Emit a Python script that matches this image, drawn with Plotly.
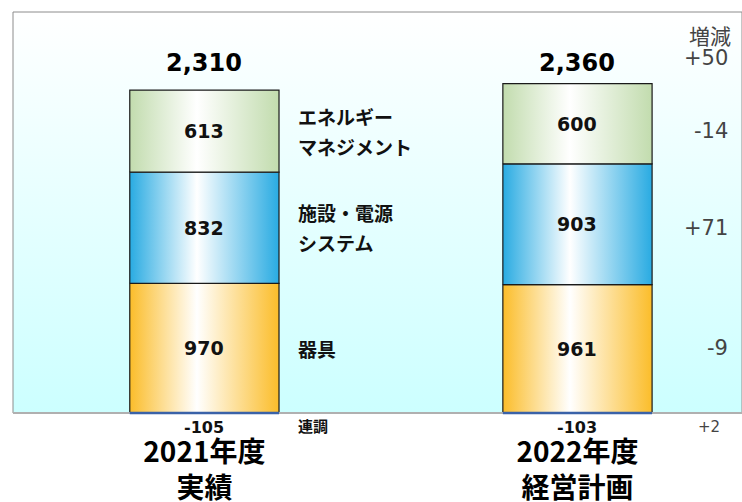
import plotly.graph_objects as go

# ---- data ----
categories = ["2021年度<br>実績", "2022年度<br>経営計画"]
segment_names = ["器具", "施設・電源<br>システム", "エネルギー<br>マネジメント"]
values_2021 = [970, 832, 613]
values_2022 = [961, 903, 600]
adjust_values = ["-105", "-103"]
adjust_name = "連調"
totals = ["2,310", "2,360"]
delta_header = "増減"
delta_total = "+50"
delta_segments = ["-9", "+71", "-14"]
delta_adjust = "+2"

# ---- style ----
JP = "Noto Sans CJK JP"
NUM = "DejaVu Sans"
seg_colors = ["#fbbd2a", "#29abe2", "#c2dcae"]
x_pos = [0, 1]
half_w = 0.2
y_max = 3000
x_range = [-0.513, 1.441]

fig = go.Figure()

# background gradient
fig.add_trace(go.Scatter(
    x=[x_range[0], x_range[1], x_range[1], x_range[0], x_range[0]],
    y=[0, 0, y_max, y_max, 0],
    mode="lines", line=dict(width=0), fill="toself",
    fillgradient=dict(type="vertical", colorscale=[[0, "#ccffff"], [1, "#ffffff"]]),
    hoverinfo="skip", showlegend=False))

annotations = []
shapes = [
    dict(type="rect", xref="paper", yref="paper", x0=0, x1=1, y0=0, y1=1,
         line=dict(color="#8c8c8c", width=1), layer="above"),
    dict(type="line", xref="paper", yref="paper", x0=0, x1=1, y0=0, y1=0,
         line=dict(color="#b0b0b0", width=2), layer="above"),
]
series = [values_2021, values_2022]
for xi, vals in zip(x_pos, series):
    base = 0
    for si, v in enumerate(vals):
        x0, x1 = xi - half_w, xi + half_w
        fig.add_trace(go.Scatter(
            x=[x0, x1, x1, x0, x0], y=[base, base, base + v, base + v, base],
            mode="lines", line=dict(color="#1a1a1a", width=1.2), fill="toself",
            fillgradient=dict(type="horizontal",
                              colorscale=[[0, seg_colors[si]], [0.45, "#ffffff"], [1, seg_colors[si]]]),
            hoverinfo="skip", showlegend=False))
        annotations.append(dict(x=xi, y=base + v / 2, text=str(v), showarrow=False,
                                font=dict(family=NUM, size=19, color="#111", weight="bold")))
        base += v
    # blue bottom edge of the bar
    shapes.append(dict(type="line", xref="x", yref="paper", x0=xi - half_w, x1=xi + half_w,
                       y0=0, y1=0, line=dict(color="#3a62a8", width=2.5), layer="above"))

# totals
for xi, t in zip(x_pos, totals):
    annotations.append(dict(x=xi, y=2615, text=t, showarrow=False,
                            font=dict(family=NUM, size=24, color="#000", weight="bold")))
# adjust values below axis
for xi, a in zip(x_pos, adjust_values):
    annotations.append(dict(x=xi, y=-0.037, yref="paper", yanchor="middle", text=a,
                            showarrow=False,
                            font=dict(family=NUM, size=16, color="#111", weight="bold")))

# segment names (positioned at 2021 segment centres)
base = 0
seg_mid = []
for v in values_2021:
    seg_mid.append(base + v / 2)
    base += v
for name, ym in zip(segment_names, seg_mid):
    lines = name.split("<br>")
    n = len(lines)
    for li, ln in enumerate(lines):
        annotations.append(dict(x=0.245, y=ym, text=ln, showarrow=False, xanchor="left",
                                yshift=(n - 1) * 15 - li * 30,
                                font=dict(family=JP, size=19, color="#111", weight="bold")))
annotations.append(dict(x=0.245, y=-0.032, yref="paper", yanchor="middle", text=adjust_name,
                        showarrow=False, xanchor="left",
                        font=dict(family=JP, size=15, color="#111", weight="bold")))

# delta column
dx = 1.408
annotations.append(dict(x=dx + 0.01, y=2825, text=delta_header, showarrow=False, xanchor="right",
                        font=dict(family=JP, size=21, color="#444")))
annotations.append(dict(x=dx, y=2655, text=delta_total, showarrow=False, xanchor="right",
                        font=dict(family=NUM, size=21, color="#444")))
for d, ym in zip(delta_segments, seg_mid):
    annotations.append(dict(x=dx, y=ym, text=d, showarrow=False, xanchor="right",
                            font=dict(family=NUM, size=21, color="#444")))
annotations.append(dict(x=dx - 0.02, y=-0.035, yref="paper", yanchor="middle", text=delta_adjust,
                        showarrow=False, xanchor="right",
                        font=dict(family=NUM, size=15, color="#444")))

fig.update_layout(
    width=742, height=502,
    margin=dict(l=13, r=0, t=12, b=89),
    paper_bgcolor="white", plot_bgcolor="white",
    showlegend=False,
    annotations=annotations,
    shapes=shapes,
    xaxis=dict(range=x_range, tickvals=x_pos, ticktext=categories, showgrid=False,
               zeroline=False, showline=False, automargin=False,
               ticks="", ticklabelstandoff=20,
               tickfont=dict(family=JP, size=28, color="#000", weight="bold")),
    yaxis=dict(range=[0, y_max], showgrid=False, zeroline=False, showticklabels=False,
               ticks="", showline=False, automargin=False),
)

fig.write_html("out.html")
